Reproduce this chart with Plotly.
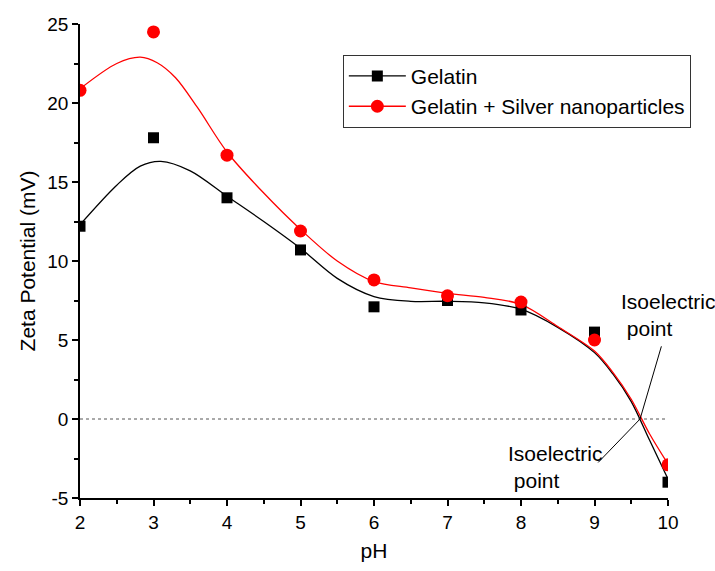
import plotly.graph_objects as go

# Measured data
ph = [2, 3, 4, 5, 6, 7, 8, 9, 10]
gelatin = [12.2, 17.8, 14.0, 10.7, 7.1, 7.5, 6.9, 5.5, -4.0]
gelatin_ag = [20.8, 24.5, 16.7, 11.9, 8.8, 7.8, 7.4, 5.0, -2.9]

# Fitted curves
curve_ph = [2, 2.5, 2.82, 3.1, 3.5, 4, 4.5, 5, 5.5, 6, 6.5, 7, 7.5, 8, 8.5, 9, 9.25, 9.5, 9.75, 10]
curve_gelatin = [12.3, 14.8, 16.0, 16.3, 15.7, 14.1, 12.5, 10.8, 8.9, 7.75, 7.45, 7.45, 7.35, 6.95, 5.8, 4.2, 2.85, 1.1, -1.35, -3.8]
curve_ag_ph = [2, 2.5, 2.82, 3.05, 3.3, 3.6, 4, 4.5, 5, 5.5, 6, 6.5, 7, 7.5, 8, 8.5, 9, 9.25, 9.5, 9.75, 10]
curve_ag = [20.9, 22.5, 22.9, 22.55, 21.6, 19.7, 16.9, 14.3, 12.0, 10.0, 8.7, 8.3, 7.95, 7.7, 7.25, 5.85, 4.3, 2.95, 1.25, -0.95, -2.85]

y_tickvals = [-5, 0, 5, 10, 15, 20, 25]
y_ticktext = ["-5", "0", "5", "10", "15", "20", "25"]
x_tickvals = [2, 3, 4, 5, 6, 7, 8, 9, 10]

iso_point = (9.62, 0)
upper_label = (9.91, 4.6)
lower_label = (9.05, -2.75)
upper_text_pos = (9.33, 8.3)
lower_text_pos = (7.8, -1.3)

FONT = "Arial"
RED = "#ff0000"

fig = go.Figure()

fig.add_trace(go.Scatter(x=curve_ph, y=curve_gelatin, mode="lines", line=dict(color="black", width=1.3, shape="spline", smoothing=0.9), showlegend=False, hoverinfo="skip"))
fig.add_trace(go.Scatter(x=curve_ag_ph, y=curve_ag, mode="lines", line=dict(color=RED, width=1.3, shape="spline", smoothing=0.9), showlegend=False, hoverinfo="skip"))
fig.add_trace(go.Scatter(x=ph, y=gelatin, mode="markers", marker=dict(symbol="square", size=11, color="black"), showlegend=False))
fig.add_trace(go.Scatter(x=ph, y=gelatin_ag, mode="markers", marker=dict(symbol="circle", size=13, color=RED), showlegend=False))

# legend entries
fig.add_trace(go.Scatter(x=[None], y=[None], mode="lines+markers", name="Gelatin",
                         line=dict(color="black", width=1.3), marker=dict(symbol="square", size=11, color="black")))
fig.add_trace(go.Scatter(x=[None], y=[None], mode="lines+markers", name="Gelatin + Silver nanoparticles",
                         line=dict(color=RED, width=1.3), marker=dict(symbol="circle", size=13, color=RED)))

# zero line
fig.add_shape(type="line", x0=2, x1=10, y0=0, y1=0, xref="x", yref="y",
              line=dict(color="#555555", width=1, dash="dot"))
# pointer lines
fig.add_shape(type="line", x0=iso_point[0], y0=iso_point[1], x1=upper_label[0], y1=upper_label[1],
              xref="x", yref="y", line=dict(color="black", width=1))
fig.add_shape(type="line", x0=iso_point[0], y0=iso_point[1], x1=lower_label[0], y1=lower_label[1],
              xref="x", yref="y", line=dict(color="black", width=1))

fig.add_annotation(x=upper_text_pos[0], y=upper_text_pos[1], xref="x", yref="y", text="Isoelectric<br> point", showarrow=False,
                   align="left", font=dict(size=21, color="black", family=FONT), xanchor="left", yanchor="top")
fig.add_annotation(x=lower_text_pos[0], y=lower_text_pos[1], xref="x", yref="y", text="Isoelectric<br> point", showarrow=False,
                   align="left", font=dict(size=21, color="black", family=FONT), xanchor="left", yanchor="top")

fig.update_layout(
    width=715, height=571,
    margin=dict(l=80, r=47, t=24, b=70),
    paper_bgcolor="white", plot_bgcolor="white",
    font=dict(family=FONT, size=19, color="black"),
    legend=dict(x=0.447, y=0.935, xanchor="left", yanchor="top",
                bordercolor="#333333", borderwidth=1, bgcolor="white",
                font=dict(size=21, family=FONT), itemwidth=57, tracegroupgap=0),
    xaxis=dict(range=[2, 10], tickvals=x_tickvals, showline=True, linecolor="black", linewidth=1.5,
               ticks="outside", ticklen=6, tickwidth=1.5, tickcolor="black", showgrid=False, zeroline=False,
               minor=dict(dtick=0.5, ticks="outside", ticklen=4, tickwidth=1.5, tickcolor="black", showgrid=False),
               title=dict(text="pH", font=dict(size=21), standoff=12),
               tickfont=dict(size=19)),
    yaxis=dict(range=[-5, 25], tickvals=y_tickvals, ticktext=y_ticktext, showline=True, linecolor="black", linewidth=1.5,
               ticks="outside", ticklen=6, tickwidth=1.5, tickcolor="black", showgrid=False, zeroline=False,
               minor=dict(tick0=0, dtick=2.5, ticks="outside", ticklen=4, tickwidth=1.5, tickcolor="black", showgrid=False),
               title=dict(text="Zeta Potential (mV)", font=dict(size=21), standoff=6),
               tickfont=dict(size=19)),
)

fig.write_html("out.html")
